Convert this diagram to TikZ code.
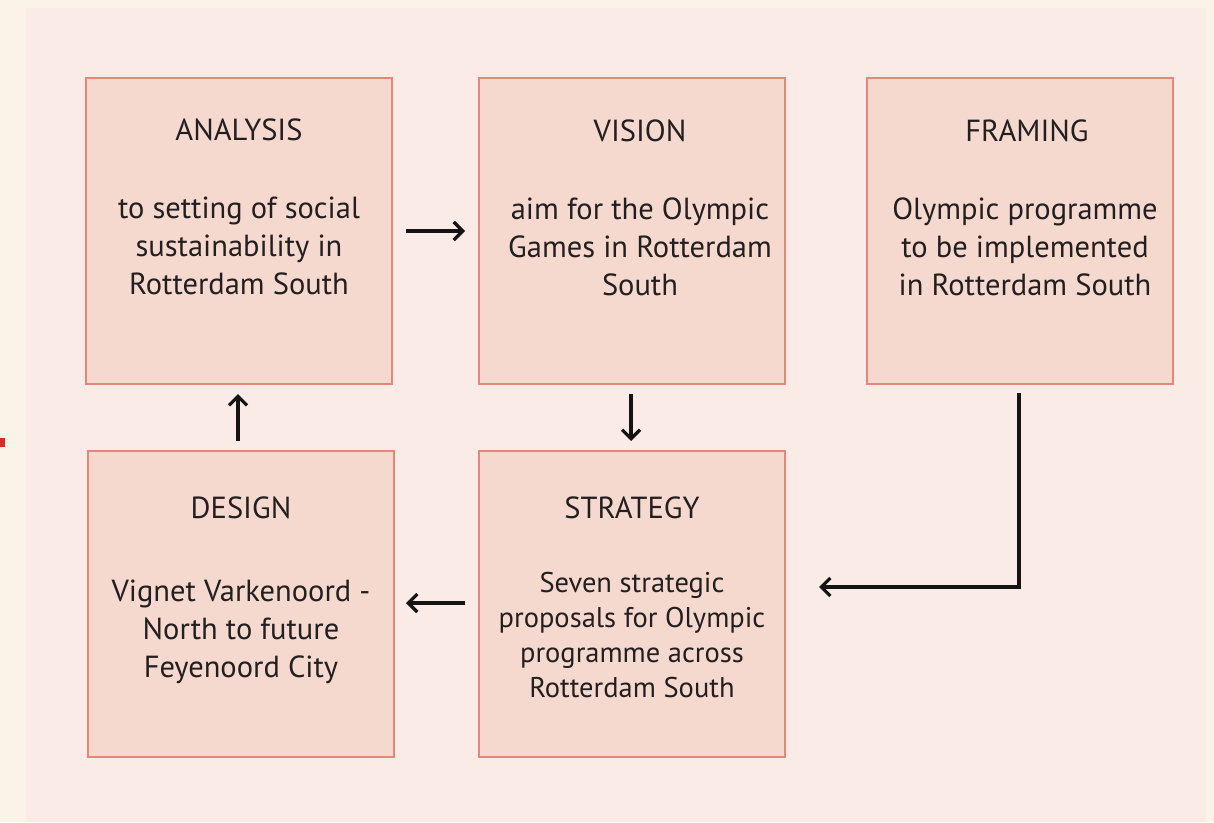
\documentclass[tikz,border=0pt]{standalone}
\usepackage{fontspec}
\setmainfont{PT Sans}
\usetikzlibrary{arrows.meta}
\definecolor{outerbg}{HTML}{FCF3E8}
\definecolor{panel}{HTML}{FAEBE6}
\definecolor{boxfill}{HTML}{F5D9CF}
\definecolor{boxline}{HTML}{E3877B}
\definecolor{txt}{HTML}{231F20}
\definecolor{redtag}{HTML}{D0302A}
\tikzset{
  x=1pt,y=-1pt,
  stagebox/.style={draw=boxline,fill=boxfill,line width=2pt,minimum width=306pt,minimum height=306pt,inner sep=0pt},
  ttl/.style={font=\fontsize{30.5}{34}\selectfont,text=txt,anchor=center},
  body/.style={font=\fontsize{30.5}{38}\selectfont,text=txt,align=center,anchor=center},
  bodys/.style={font=\fontsize{28.5}{35}\selectfont,text=txt,align=center,anchor=center},
  flow/.style={line width=3.2pt,draw=black!92,-{Straight Barb[length=9pt,width=18pt,line width=3.2pt]}},
}
\begin{document}
\begin{tikzpicture}
\useasboundingbox (0,0) rectangle (1214,822);
\fill[outerbg] (0,0) rectangle (1214,822);
\fill[panel] (26,8) rectangle (1206,822);
\fill[redtag] (0,438) rectangle (5,447);
\node[stagebox] (ana) at (239,231) {};
\node[stagebox] (vis) at (632,231) {};
\node[stagebox] (fra) at (1019.5,231) {};
\node[stagebox] (des) at (241,603.5) {};
\node[stagebox] (str) at (632,603.5) {};
\node[ttl] (anat) at (239,130) {ANALYSIS};
\node[body] (anab) at (239,246) {to setting of social\\sustainability in\\Rotterdam South};
\node[ttl] (vist) at (640,131) {VISION};
\node[body] (visb) at (640,247) {aim for the Olympic\\Games in Rotterdam\\South};
\node[ttl] (frat) at (1027,131) {FRAMING};
\node[body] (frab) at (1025,247) {Olympic programme\\to be implemented\\in Rotterdam South};
\node[ttl] (dest) at (241,508) {DESIGN};
\node[body] (desb) at (241,632) {Vignet Varkenoord -\\North to future\\Feyenoord City};
\node[ttl] (strt) at (632,508) {STRATEGY};
\node[bodys] (strb) at (632,635) {Seven strategic\\proposals for Olympic\\programme across\\Rotterdam South};
\coordinate (a1) at (406,231); \coordinate (a2) at (465,231);
\draw[flow] (a1) -- (a2);
\coordinate (b1) at (631,394); \coordinate (b2) at (631,441);
\draw[flow] (b1) -- (b2);
\coordinate (c1) at (238,441); \coordinate (c2) at (238,394);
\draw[flow] (c1) -- (c2);
\coordinate (d1) at (465,603); \coordinate (d2) at (406,603);
\draw[flow] (d1) -- (d2);
\coordinate (e1) at (1019,393); \coordinate (e2) at (1019,587); \coordinate (e3) at (819,587);
\draw[flow] (e1) -- (e2) -- (e3);
\end{tikzpicture}
\end{document}
